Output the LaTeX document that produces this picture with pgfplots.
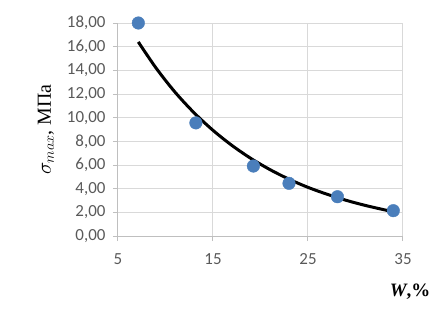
\documentclass[border=0pt]{standalone}
\usepackage{pgfplots}
\pgfplotsset{compat=1.18}
\usepackage{fontspec}
\setmainfont{Liberation Serif}
\newfontfamily\calibri{Carlito}
\definecolor{ptblue}{HTML}{4A7EBB}
\definecolor{lblgray}{HTML}{595959}
\begin{document}
\begin{tikzpicture}
\useasboundingbox (-118bp,-73bp) rectangle (316bp,236bp);
\begin{axis}[
  scale only axis, width=285bp, height=213bp,
  at={(0,0)}, anchor=south west,
  xmin=5, xmax=35, ymin=0, ymax=18,
  xtick={5,15,25,35}, ytick={0,2,...,18},
  axis lines=left,
  axis line style={-, draw=black!25, line width=1bp},
  grid=major,
  major grid style={draw=black!15, line width=1bp},
  tick align=outside, major tick length=5bp,
  tick style={draw=black!25, line width=1bp},
  /pgf/number format/assume math mode=true,
  ticklabel style={font=\calibri\fontsize{17}{17}\selectfont, text=lblgray},
  yticklabel style={/tikz/xshift=-4bp, /pgf/number format/fixed, /pgf/number format/fixed zerofill, /pgf/number format/precision=2, /pgf/number format/use comma},
  xticklabel style={/tikz/yshift=-9bp},
  every axis y label/.style={at={(axis description cs:-0.253,0.5)}, rotate=90, anchor=center},
  every axis x label/.style={at={(axis description cs:1.025,-0.262)}, anchor=center},
  ylabel={\fontsize{20}{20}\selectfont$\sigma_{max}$, МПа},
  xlabel={\fontsize{19}{19}\selectfont\textbf{\textit{W},\%}},
  clip=false,
]
\addplot[black, line width=3bp, smooth] coordinates {
  (7.14,16.40) (9,14.20) (11,12.16) (13,10.42) (15,8.93) (17,7.65) (19,6.55)
  (21,5.61) (23,4.80) (25,4.11) (27,3.53) (29,3.02) (31,2.59) (33,2.22) (34,2.05)
};
\addplot[only marks, mark=*, mark size=6.3bp, mark options={fill=ptblue, draw=ptblue}] coordinates {
  (7.14,18.0) (13.2,9.56) (19.25,5.91) (23.0,4.45) (28.1,3.32) (33.98,2.14)
};
\end{axis}
\end{tikzpicture}
\end{document}
